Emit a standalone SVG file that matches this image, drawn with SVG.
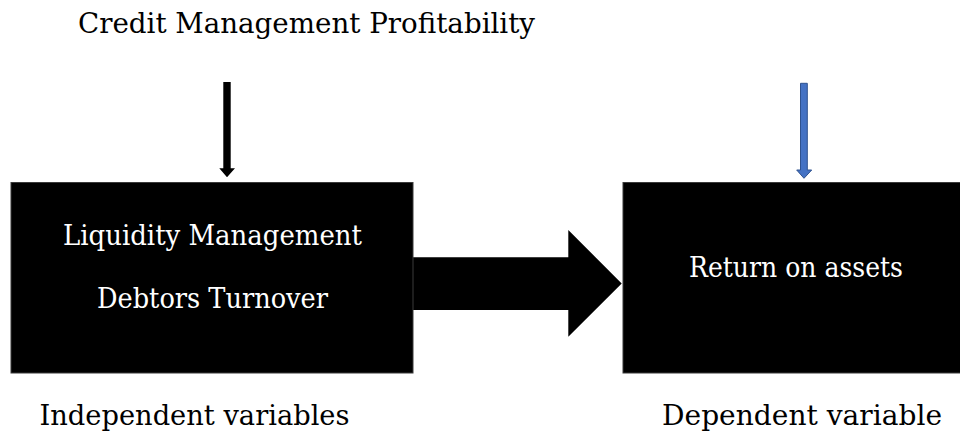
<svg xmlns="http://www.w3.org/2000/svg" width="960" height="432" viewBox="0 0 960 432">
<style>
.box{fill:#000;stroke:#3a3a3a;stroke-width:1}
.t{font-family:"DejaVu Serif","Liberation Serif",serif;font-size:27px;text-anchor:middle}
.w{fill:#fff}
.k{fill:#000}
</style>
<rect width="960" height="432" fill="#fff"/>
<g id="label-credit"><text class="t k" x="306.5" y="33" textLength="457" lengthAdjust="spacingAndGlyphs">Credit Management Profitability</text></g>
<g id="connectors">
<polygon points="223.3,82 230.7,82 230.7,168.3 235,168.3 227,177.3 219.3,168.3 223.3,168.3" fill="#000"/>
<polygon points="800.5,83.3 807.3,83.3 807.3,170 811.7,170 804,178.3 796.7,170 800.5,170" fill="#4472C4" stroke="#2F528F" stroke-width="1"/>
<polygon points="413,257.3 568.3,257.3 568.3,230 621.7,283.5 568.3,336.7 568.3,310 413,310" fill="#000"/>
</g>
<g id="node-independent">
<rect class="box" x="11" y="182.5" width="402" height="190.5"/>
<text class="t w" x="212.5" y="245" textLength="299" lengthAdjust="spacingAndGlyphs">Liquidity Management</text>
<text class="t w" x="212.5" y="308" textLength="231" lengthAdjust="spacingAndGlyphs">Debtors Turnover</text>
</g>
<g id="node-dependent">
<rect class="box" x="623" y="182.5" width="345" height="190.5"/>
<text class="t w" x="796" y="277" textLength="214" lengthAdjust="spacingAndGlyphs">Return on assets</text>
</g>
<g id="label-independent"><text class="t k" x="194.5" y="425" textLength="310" lengthAdjust="spacingAndGlyphs">Independent variables</text></g>
<g id="label-dependent"><text class="t k" x="802" y="425" textLength="280" lengthAdjust="spacingAndGlyphs">Dependent variable</text></g>
</svg>
